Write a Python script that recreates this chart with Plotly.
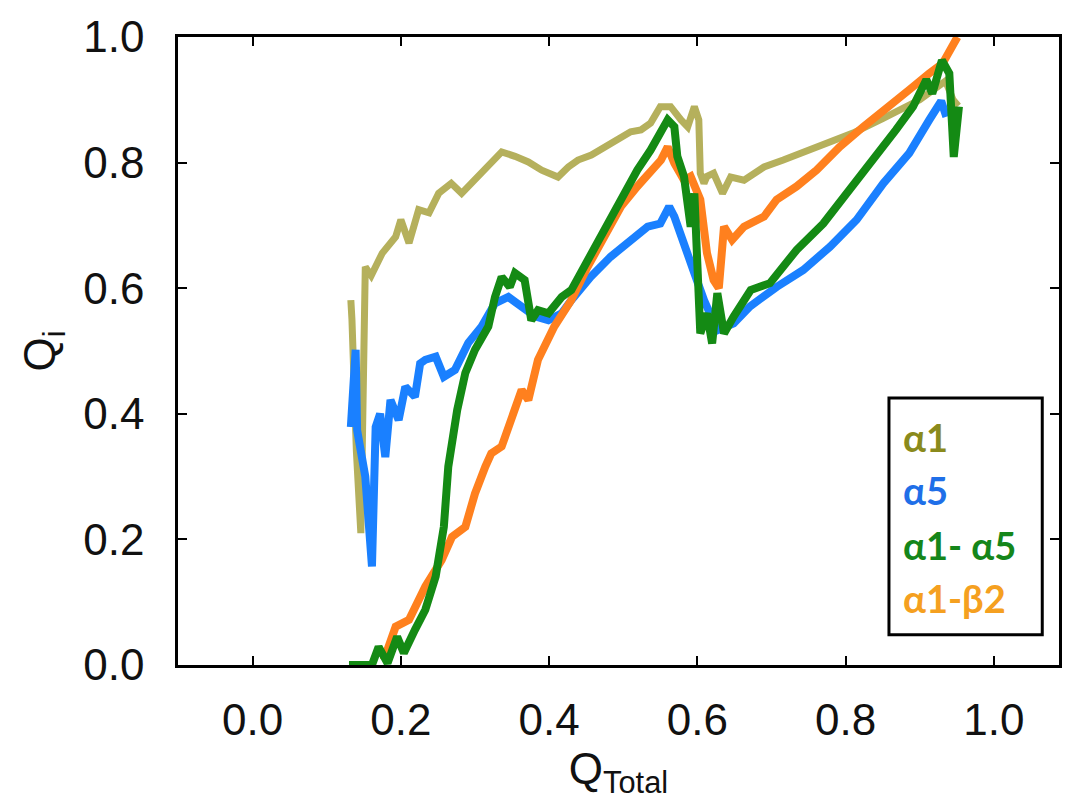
import plotly.graph_objects as go

# ---------------- data ----------------
a1_x = [0.1325, 0.134, 0.14, 0.146, 0.152, 0.16, 0.175, 0.186, 0.193, 0.2, 0.211, 0.224, 0.238,
        0.251, 0.268, 0.282, 0.3, 0.318, 0.336, 0.354, 0.372, 0.39, 0.412, 0.426, 0.439, 0.457,
        0.475, 0.493, 0.51, 0.524, 0.537, 0.55, 0.564, 0.578, 0.587, 0.596, 0.602, 0.604, 0.609,
        0.613, 0.622, 0.634, 0.645, 0.663, 0.69, 0.716, 0.752, 0.788, 0.81, 0.85, 0.9, 0.935,
        0.945, 0.952]
a1_y = [0.581, 0.55, 0.34, 0.21, 0.634, 0.62, 0.656, 0.67, 0.682, 0.709, 0.672, 0.725, 0.72,
        0.751, 0.767, 0.751, 0.772, 0.793, 0.817, 0.81, 0.801, 0.788, 0.777, 0.793, 0.804, 0.812,
        0.825, 0.835, 0.849, 0.852, 0.863, 0.889, 0.889, 0.868, 0.857, 0.889, 0.868, 0.783, 0.767,
        0.778, 0.783, 0.751, 0.777, 0.772, 0.793, 0.804, 0.82, 0.836, 0.847, 0.87, 0.9, 0.93,
        0.9, 0.89]

a5_x = [0.1325, 0.139, 0.141, 0.148, 0.152, 0.161, 0.166, 0.172, 0.179, 0.186, 0.197, 0.206,
        0.219, 0.226, 0.233, 0.247, 0.258, 0.273, 0.291, 0.309, 0.327, 0.345, 0.363, 0.381,
        0.399, 0.417, 0.43, 0.456, 0.483, 0.51, 0.533, 0.55, 0.562, 0.569, 0.582, 0.596, 0.609,
        0.617, 0.627, 0.649, 0.671, 0.707, 0.743, 0.779, 0.815, 0.851, 0.886, 0.913, 0.929, 0.936]
a5_y = [0.379, 0.502, 0.374, 0.33, 0.3, 0.157, 0.379, 0.40, 0.331, 0.422, 0.39, 0.443, 0.427,
        0.48, 0.486, 0.491, 0.459, 0.47, 0.513, 0.539, 0.576, 0.586, 0.571, 0.555, 0.549, 0.56,
        0.581, 0.618, 0.65, 0.677, 0.698, 0.703, 0.73, 0.714, 0.666, 0.624, 0.581, 0.56, 0.533,
        0.544, 0.571, 0.602, 0.629, 0.666, 0.709, 0.767, 0.815, 0.868, 0.898, 0.873]

a1a5_x = [0.13, 0.161, 0.17, 0.182, 0.195, 0.204, 0.219, 0.233, 0.247, 0.258, 0.264, 0.276,
          0.287, 0.3, 0.318, 0.327, 0.336, 0.347, 0.354, 0.367, 0.376, 0.385, 0.399, 0.417,
          0.43, 0.452, 0.475, 0.497, 0.519, 0.537, 0.55, 0.56, 0.569, 0.573, 0.582, 0.591,
          0.596, 0.6, 0.604, 0.613, 0.62, 0.627, 0.636, 0.649, 0.672, 0.698, 0.734, 0.77,
          0.806, 0.842, 0.868, 0.891, 0.909, 0.917, 0.93, 0.94, 0.946, 0.953]
a1a5_y = [0.0, 0.0, 0.029, 0.003, 0.045, 0.019, 0.056, 0.088, 0.141, 0.22, 0.316, 0.406,
          0.465, 0.502, 0.539, 0.586, 0.618, 0.602, 0.624, 0.613, 0.549, 0.565, 0.56, 0.586,
          0.597, 0.645, 0.693, 0.74, 0.788, 0.82, 0.847, 0.868, 0.857, 0.81, 0.778, 0.698,
          0.751, 0.645, 0.528, 0.56, 0.512, 0.592, 0.528, 0.555, 0.597, 0.608, 0.661, 0.703,
          0.756, 0.809, 0.852, 0.889, 0.932, 0.91, 0.963, 0.942, 0.809, 0.889]

a1b2_x = [0.177, 0.193, 0.211, 0.233, 0.255, 0.269, 0.287, 0.3, 0.314, 0.322, 0.336, 0.349,
          0.363, 0.372, 0.385, 0.407, 0.43, 0.452, 0.475, 0.497, 0.519, 0.537, 0.551, 0.56,
          0.569, 0.582, 0.591, 0.604, 0.613, 0.622, 0.629, 0.636, 0.647, 0.663, 0.69, 0.707,
          0.734, 0.761, 0.792, 0.824, 0.86, 0.886, 0.913, 0.931, 0.951]
a1b2_y = [0.008, 0.061, 0.072, 0.125, 0.167, 0.204, 0.22, 0.273, 0.316, 0.337, 0.348, 0.396,
          0.438, 0.422, 0.486, 0.539, 0.581, 0.634, 0.682, 0.73, 0.762, 0.788, 0.804, 0.825,
          0.799, 0.772, 0.778, 0.741, 0.656, 0.613, 0.6, 0.698, 0.677, 0.698, 0.714, 0.741,
          0.762, 0.788, 0.825, 0.857, 0.889, 0.916, 0.942, 0.958, 1.0]

series_names = ["α1", "α5", "α1- α5", "α1-β2"]
line_colors = ["#b5b05c", "#1a80ff", "#148a14", "#ff801e"]
label_colors = ["#8a8a1c", "#1f6fe8", "#15861a", "#f5a020"]

fig = go.Figure()
traces = [(a1_x, a1_y, 7), (a5_x, a5_y, 8), (a1b2_x, a1b2_y, 8), (a1a5_x, a1a5_y, 8)]
order = [0, 1, 3, 2]
for (xs, ys, w), idx in zip(traces, order):
    fig.add_trace(go.Scatter(x=xs, y=ys, mode="lines", name=series_names[idx],
                             line=dict(color=line_colors[idx], width=w),
                             showlegend=False))

# legend-like box with coloured labels
fig.add_shape(type="rect", xref="paper", yref="paper", x0=0.807, x1=0.981, y0=0.048, y1=0.425,
              line=dict(color="black", width=3), fillcolor="white", layer="above")
label_y = [0.363, 0.279, 0.191, 0.107]
for name, col, yy in zip(series_names, label_colors, label_y):
    fig.add_annotation(xref="paper", yref="paper", x=0.821, y=yy, text="<b>%s</b>" % name,
                       showarrow=False, xanchor="left", yanchor="middle",
                       font=dict(family="Lato", size=38, color=col))

axis_font = dict(family="Liberation Sans, Arial", size=44, color="#111")
fig.update_xaxes(range=[-0.1007, 1.088], tickvals=[0, 0.2, 0.4, 0.6, 0.8, 1.0],
                 ticktext=["0.0", "0.2", "0.4", "0.6", "0.8", "1.0"],
                 ticks="inside", ticklen=9, tickwidth=2, tickcolor="black",
                 showline=True, linecolor="black", linewidth=2.5, mirror="ticks",
                 showgrid=False, zeroline=False, tickfont=axis_font, ticklabelstandoff=14,
                 title=dict(text="Q<sub>Total</sub>", font=axis_font, standoff=4))
fig.update_yaxes(range=[0, 1.0], tickvals=[0, 0.2, 0.4, 0.6, 0.8, 1.0],
                 ticktext=["0.0", "0.2", "0.4", "0.6", "0.8", "1.0"],
                 ticks="inside", ticklen=9, tickwidth=2, tickcolor="black",
                 showline=True, linecolor="black", linewidth=2.5, mirror="ticks",
                 showgrid=False, zeroline=False, tickfont=axis_font, ticklabelstandoff=22,
                 title=dict(text="Q<sub>i</sub>", font=axis_font, standoff=14))
fig.update_layout(width=1065, height=808, margin=dict(l=178, r=3, t=37, b=143),
                  plot_bgcolor="white", paper_bgcolor="white")
fig.write_html("out.html")
